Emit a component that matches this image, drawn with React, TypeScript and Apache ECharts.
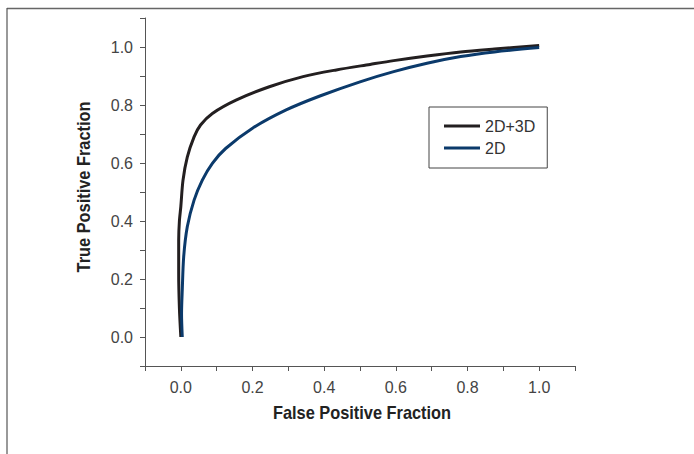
import React, { useEffect, useRef } from "react";
import * as echarts from "echarts";

const seriesNames = ["2D+3D", "2D"];

const fpf2D3D = [0, -0.004, -0.006, -0.006, -0.004, 0, 0.006, 0.018, 0.037, 0.055, 0.088, 0.154, 0.247, 0.341, 0.434, 0.528, 0.594, 0.687, 0.781, 0.875, 1.0];
const tpf2D3D = [0, 0.1, 0.22, 0.334, 0.4, 0.45, 0.54, 0.62, 0.69, 0.731, 0.771, 0.817, 0.863, 0.898, 0.921, 0.94, 0.953, 0.969, 0.983, 0.993, 1.005];

const fpf2D = [0.004, 0.002, 0.004, 0.008, 0.018, 0.037, 0.06, 0.088, 0.125, 0.2, 0.294, 0.388, 0.5, 0.594, 0.687, 0.781, 0.875, 1.0];
const tpf2D = [0, 0.08, 0.162, 0.277, 0.38, 0.472, 0.541, 0.599, 0.65, 0.72, 0.783, 0.831, 0.88, 0.915, 0.944, 0.967, 0.983, 0.998];

const axisTicks = ["0.0", "0.2", "0.4", "0.6", "0.8", "1.0"];
const xTitle = "False Positive Fraction";
const yTitle = "True Positive Fraction";

const colors = ["#231f20", "#0b3a6b"];

function pairs(xs: number[], ys: number[]) {
  return xs.map((x, i) => [x, ys[i]]);
}

export default function App() {
  const ref = useRef<HTMLDivElement>(null);
  useEffect(() => {
    document.body.style.margin = "0";
    const chart = echarts.init(ref.current!, null, { renderer: "svg" });
    const labelFmt = (v: number) => {
      const k = Math.round(v * 10);
      const s = (k / 10).toFixed(1);
      return axisTicks.includes(s) ? s : "";
    };
    const axisCommon = {
      type: "value" as const,
      min: -0.1,
      max: 1.1,
      interval: 0.1,
      axisLine: { show: true, onZero: false, lineStyle: { color: "#555", width: 1 } },
      axisTick: { show: true, length: 5, inside: false, lineStyle: { color: "#555", width: 1 } },
      splitLine: { show: false },
      axisLabel: {
        formatter: labelFmt,
        fontFamily: "'Liberation Sans', Arial, sans-serif",
        fontSize: 16,
        color: "#444",
      },
    };
    const titleStyle = {
      fontFamily: "'Liberation Sans', Arial, sans-serif",
      fontWeight: "bold",
      fontSize: 18,
      fill: "#222",
      textAlign: "center",
      textVerticalAlign: "middle",
    };
    chart.setOption({
      animation: false,
      grid: { left: 145, right: 119, top: 18, bottom: 88 },
      xAxis: {
        ...axisCommon,
        axisLabel: { ...axisCommon.axisLabel, margin: 13 },
      },
      yAxis: {
        ...axisCommon,
        axisLabel: { ...axisCommon.axisLabel, margin: 12 },
      },
      legend: {
        orient: "vertical",
        left: 429,
        top: 107,
        padding: [11, 12, 12, 15],
        itemWidth: 36,
        itemHeight: 3,
        itemGap: 6,
        icon: "rect",
        borderColor: "#444",
        borderWidth: 1,
        textStyle: { fontFamily: "'Liberation Sans', Arial, sans-serif", fontSize: 16, color: "#333" },
        data: seriesNames,
      },
      graphic: [
        { type: "line", shape: { x1: 7, y1: 8.5, x2: 694, y2: 8.5 }, style: { stroke: "#666", lineWidth: 1.5 } },
        { type: "line", shape: { x1: 7, y1: 8, x2: 7, y2: 454 }, style: { stroke: "#555", lineWidth: 1.2 } },
        { type: "text", x: 362, y: 413, scaleX: 0.91, style: { ...titleStyle, text: xTitle } },
        { type: "text", x: 84, y: 187, rotation: Math.PI / 2, scaleX: 0.91, style: { ...titleStyle, text: yTitle } },
      ],
      series: [
        {
          name: seriesNames[0],
          type: "line",
          data: pairs(fpf2D3D, tpf2D3D),
          smooth: 0.3,
          symbol: "none",
          showSymbol: false,
          lineStyle: { color: colors[0], width: 3 },
          itemStyle: { color: colors[0] },
        },
        {
          name: seriesNames[1],
          type: "line",
          data: pairs(fpf2D, tpf2D),
          smooth: 0.3,
          symbol: "none",
          showSymbol: false,
          lineStyle: { color: colors[1], width: 3 },
          itemStyle: { color: colors[1] },
        },
      ],
    });
    return () => chart.dispose();
  }, []);
  return <div ref={ref} style={{ width: 694, height: 454 }} />;
}
